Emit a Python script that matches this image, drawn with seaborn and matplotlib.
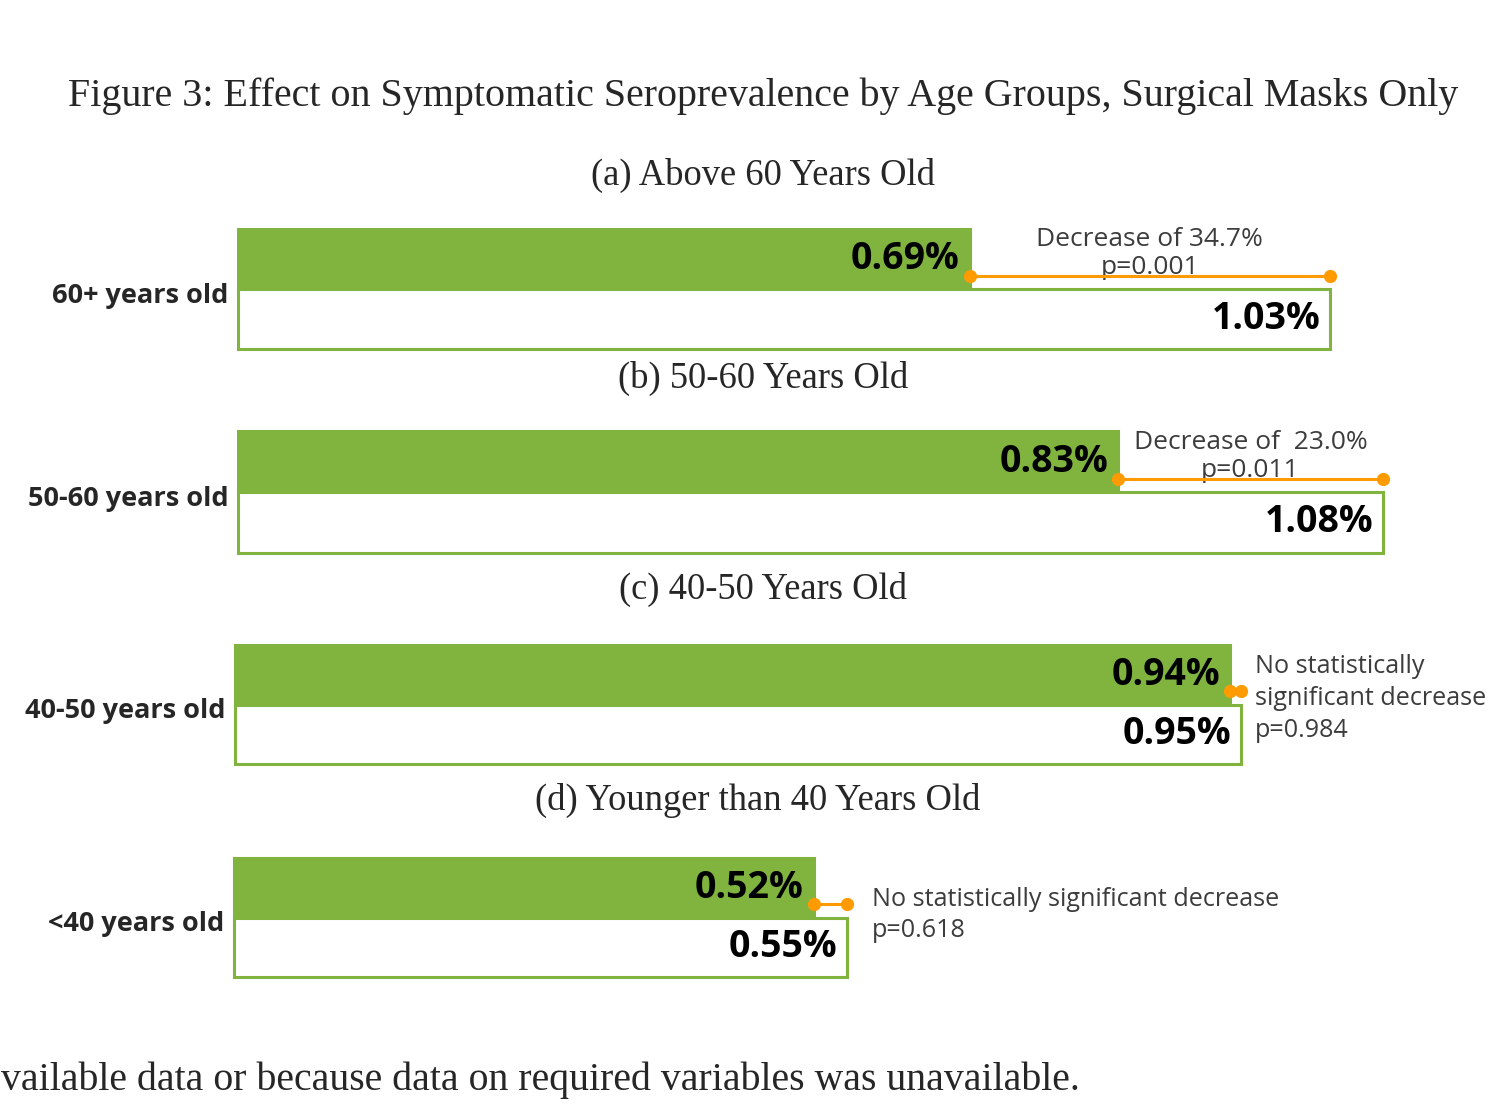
import matplotlib
matplotlib.use('Agg')
import matplotlib.pyplot as plt
import seaborn as sns
import pandas as pd

# data
age_groups = ['60+ years old', '50-60 years old', '40-50 years old', '<40 years old']
panel_titles = ['(a) Above 60 Years Old', '(b) 50-60 Years Old',
                '(c) 40-50 Years Old', '(d) Younger than 40 Years Old']
treatment = [0.69, 0.83, 0.94, 0.52]
control = [1.03, 1.08, 0.95, 0.55]
notes = ['Decrease of 34.7%\np=0.001',
         'Decrease of  23.0%\np=0.011',
         'No statistically\nsignificant decrease\np=0.984',
         'No statistically significant decrease\np=0.618']
significant = [True, True, False, False]

fig_title = 'Figure 3: Effect on Symptomatic Seroprevalence by Age Groups, Surgical Masks Only'
footer = 'vailable data or because data on required variables was unavailable.'

GREEN = '#80B43F'
ORANGE = '#FF9A00'
NOTE_GREY = '#3C3C3C'
W, H = 1493, 1111

# axes boxes in pixels: left, top, right, bottom
boxes = [(238, 229, 1330, 349),
         (238, 431, 1383, 553),
         (235, 645, 1241, 764),
         (234, 858, 847, 977)]
subtitle_y = [175, 378, 589, 800]
subtitle_x = [763, 763, 763, 758]


def px_rect(left, top, right, bottom):
    return [left / W, 1 - bottom / H, (right - left) / W, (bottom - top) / H]


def main():
    sns.set_style('white')
    plt.rcParams['font.family'] = ['Open Sans', 'DejaVu Sans']

    fig = plt.figure(figsize=(W / 100, H / 100), dpi=100)

    serif = ['Liberation Serif', 'DejaVu Serif']
    fig.text(763 / W, 1 - 96 / H, fig_title, ha='center', va='center',
             fontsize=28.8, family=serif)
    fig.text(1 / W, 1 - 1080 / H, footer, ha='left', va='center',
             fontsize=28.6, family=serif)

    for i, group in enumerate(age_groups):
        fig.text(subtitle_x[i] / W, 1 - subtitle_y[i] / H, panel_titles[i],
                 ha='center', va='center', fontsize=26.3, family=serif)

        df = pd.DataFrame({'arm': ['Treatment', 'Control'],
                           'value': [treatment[i], control[i]]})

        ax = fig.add_axes(px_rect(*boxes[i]))
        sns.barplot(data=df, x='value', y='arm', hue='arm',
                    palette=[GREEN, 'white'], saturation=1, width=1.0,
                    orient='h', legend=False, ax=ax)
        for patch in ax.patches:
            patch.set_edgecolor(GREEN)
            patch.set_linewidth(2.2)
            patch.set_clip_on(False)

        ax.set_xlim(0, control[i])
        ax.set_ylim(1.5, -0.5)
        sns.despine(ax=ax, left=True, bottom=True)
        ax.set_xticks([])
        ax.set_xlabel('')
        ax.set_ylabel('')
        ax.set_yticks([0.56])
        ax.set_yticklabels([group], fontsize=19.5, fontweight='bold')
        ax.tick_params(axis='y', length=0, pad=7)

        # value labels inside the bars
        for yy, val in zip([0, 1], [treatment[i], control[i]]):
            ax.annotate(f'{val:.2f}%', xy=(val, yy), xytext=(-7, 0),
                        textcoords='offset points', ha='right', va='center',
                        fontsize=27, fontweight='bold', color='black')

        # orange connector between the two values
        ax.plot([treatment[i], control[i]], [0.28, 0.28], color=ORANGE,
                lw=2.2, marker='o', ms=8.5, clip_on=False, zorder=5)

        if significant[i]:
            mid = (treatment[i] + control[i]) / 2
            ax.annotate(notes[i], xy=(mid, 0.28), xytext=(0, -3),
                        textcoords='offset points', ha='center', va='bottom',
                        fontsize=19, color=NOTE_GREY, linespacing=1.15,
                        annotation_clip=False)
        else:
            y_note = 0.4 if i == 2 else 0.46
            offset = 10 if i == 2 else 18
            ax.annotate(notes[i], xy=(control[i], y_note), xytext=(offset, 0),
                        textcoords='offset points', ha='left', va='center',
                        fontsize=18.1, color=NOTE_GREY, linespacing=1.35,
                        annotation_clip=False)

    fig.savefig('out.png', dpi=100)
    plt.close(fig)


if __name__ == '__main__':
    main()
